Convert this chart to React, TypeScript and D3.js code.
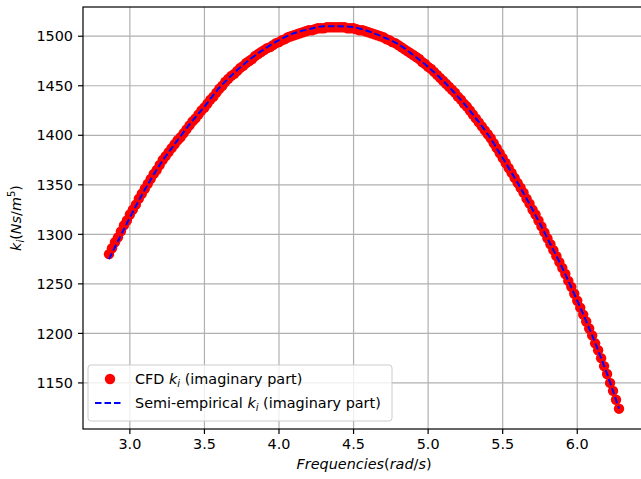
import React from 'react';
import * as d3 from 'd3';

// CFD samples (rad/s) and the imaginary part k_i
const frequencies = [
  2.86, 2.88, 2.9, 2.92, 2.94, 2.96, 2.98, 3.0, 3.02, 3.04,
  3.06, 3.08, 3.1, 3.12, 3.14, 3.16, 3.18, 3.2, 3.22, 3.24,
  3.26, 3.28, 3.3, 3.32, 3.34, 3.36, 3.38, 3.4, 3.42, 3.44,
  3.46, 3.48, 3.5, 3.52, 3.54, 3.56, 3.58, 3.6, 3.62, 3.64,
  3.66, 3.68, 3.7, 3.72, 3.74, 3.76, 3.78, 3.8, 3.82, 3.84,
  3.86, 3.88, 3.9, 3.92, 3.94, 3.96, 3.98, 4.0, 4.02, 4.04,
  4.06, 4.08, 4.1, 4.12, 4.14, 4.16, 4.18, 4.2, 4.22, 4.24,
  4.26, 4.28, 4.3, 4.32, 4.34, 4.36, 4.38, 4.4, 4.42, 4.44,
  4.46, 4.48, 4.5, 4.52, 4.54, 4.56, 4.58, 4.6, 4.62, 4.64,
  4.66, 4.68, 4.7, 4.72, 4.74, 4.76, 4.78, 4.8, 4.82, 4.84,
  4.86, 4.88, 4.9, 4.92, 4.94, 4.96, 4.98, 5.0, 5.02, 5.04,
  5.06, 5.08, 5.1, 5.12, 5.14, 5.16, 5.18, 5.2, 5.22, 5.24,
  5.26, 5.28, 5.3, 5.32, 5.34, 5.36, 5.38, 5.4, 5.42, 5.44,
  5.46, 5.48, 5.5, 5.52, 5.54, 5.56, 5.58, 5.6, 5.62, 5.64,
  5.66, 5.68, 5.7, 5.72, 5.74, 5.76, 5.78, 5.8, 5.82, 5.84,
  5.86, 5.88, 5.9, 5.92, 5.94, 5.96, 5.98, 6.0, 6.02, 6.04,
  6.06, 6.08, 6.1, 6.12, 6.14, 6.16, 6.18, 6.2, 6.22, 6.24,
  6.26, 6.28,
];

const cfdKi = [
  1280, 1286, 1292, 1297, 1303, 1309, 1314, 1320, 1325, 1330,
  1336, 1341, 1346, 1351, 1356, 1361, 1365, 1370, 1375, 1379,
  1383, 1387, 1391, 1395, 1398, 1402, 1406, 1410, 1414, 1417,
  1421, 1425, 1428, 1432, 1436, 1439, 1443, 1447, 1450, 1454,
  1457, 1460, 1462, 1465, 1468, 1470, 1473, 1475, 1477, 1480,
  1482, 1484, 1486, 1488, 1489, 1491, 1493, 1494, 1496, 1497,
  1499, 1500, 1501, 1502, 1503, 1504, 1505, 1506, 1506, 1507,
  1508, 1508, 1508, 1509, 1509, 1509, 1509, 1509, 1509, 1509,
  1508, 1508, 1508, 1507, 1506, 1506, 1505, 1504, 1503, 1502,
  1501, 1500, 1499, 1497, 1496, 1494, 1493, 1491, 1489, 1487,
  1485, 1483, 1481, 1479, 1477, 1474, 1472, 1469, 1467, 1464,
  1461, 1458, 1455, 1452, 1449, 1446, 1443, 1439, 1436, 1432,
  1429, 1425, 1421, 1417, 1413, 1409, 1405, 1401, 1397, 1392,
  1387, 1382, 1377, 1372, 1367, 1362, 1357, 1352, 1347, 1342,
  1336, 1331, 1325, 1320, 1314, 1308, 1302, 1296, 1290, 1284,
  1278, 1272, 1266, 1260, 1253, 1247, 1240, 1233, 1226, 1219,
  1212, 1205, 1198, 1190, 1183, 1175, 1167, 1159, 1150, 1142,
  1133, 1124,
];

// semi-empirical model
const semiFreq = [
  2.86, 2.9, 3.0, 3.1, 3.2, 3.3, 3.4, 3.5, 3.6, 3.7, 3.8, 3.9,
  4.0, 4.1, 4.2, 4.3, 4.4, 4.5, 4.6, 4.7, 4.8, 4.9, 5.0, 5.1,
  5.2, 5.3, 5.4, 5.5, 5.6, 5.7, 5.8, 5.9, 6.0, 6.1, 6.2, 6.28,
];
const semiKi = [
  1275, 1287, 1317, 1345, 1370, 1391, 1411, 1429, 1448, 1463, 1476, 1487,
  1496, 1503, 1507, 1510, 1510, 1509, 1505, 1499, 1492, 1481, 1469, 1455,
  1439, 1421, 1401, 1377, 1352, 1325, 1296, 1266, 1233, 1198, 1159, 1124,
];

const xTicks = [3.0, 3.5, 4.0, 4.5, 5.0, 5.5, 6.0];
const yTicks = [1150, 1200, 1250, 1300, 1350, 1400, 1450, 1500];

const W = 641;
const H = 479;
const plot = { left: 83, top: 7, right: 645, bottom: 429 };
const font = 'DejaVu Sans, sans-serif';
const fs = 14.4;

export default function App() {
  const x = d3.scaleLinear().domain([2.6857, 6.4543]).range([plot.left, plot.right]);
  const y = d3.scaleLinear().domain([1103.5, 1529.5]).range([plot.bottom, plot.top]);

  const semiLine = d3
    .line<number>()
    .x((d, i) => x(semiFreq[i]))
    .y((d) => y(d))
    .curve(d3.curveMonotoneX)(semiKi);

  return (
    <svg
      width={W}
      height={H}
      style={{ position: 'absolute', left: 0, top: 0, background: '#fff' }}
      fontFamily={font}
    >
      <rect x={0} y={0} width={W} height={H} fill="#fff" />
      <defs>
        <clipPath id="plotclip">
          <rect x={plot.left} y={plot.top} width={plot.right - plot.left} height={plot.bottom - plot.top} />
        </clipPath>
      </defs>

      {/* grid */}
      {xTicks.map((t) => (
        <line key={'gx' + t} x1={x(t)} x2={x(t)} y1={plot.top} y2={plot.bottom} stroke="#b0b0b0" strokeWidth={1.2} />
      ))}
      {yTicks.map((t) => (
        <line key={'gy' + t} x1={plot.left} x2={plot.right} y1={y(t)} y2={y(t)} stroke="#b0b0b0" strokeWidth={1.2} />
      ))}

      {/* data */}
      <g clipPath="url(#plotclip)">
        {cfdKi.map((v, i) => (
          <circle key={'c' + i} cx={x(frequencies[i])} cy={y(v)} r={5.2} fill="#ff0000" />
        ))}
        <path d={semiLine || ''} fill="none" stroke="#0000ff" strokeWidth={2} strokeDasharray="6.5,3" />
      </g>

      {/* spines */}
      <rect
        x={plot.left}
        y={plot.top}
        width={plot.right - plot.left}
        height={plot.bottom - plot.top}
        fill="none"
        stroke="#000"
        strokeWidth={1.2}
      />

      {/* x axis */}
      {xTicks.map((t) => (
        <g key={'tx' + t}>
          <line x1={x(t)} x2={x(t)} y1={plot.bottom} y2={plot.bottom + 5} stroke="#000" strokeWidth={1.2} />
          <text x={x(t)} y={449} textAnchor="middle" fontSize={fs} fill="#000">
            {t.toFixed(1)}
          </text>
        </g>
      ))}
      {/* y axis */}
      {yTicks.map((t) => (
        <g key={'ty' + t}>
          <line x1={plot.left - 5} x2={plot.left} y1={y(t)} y2={y(t)} stroke="#000" strokeWidth={1.2} />
          <text x={73} y={y(t)} dy="0.36em" textAnchor="end" fontSize={fs} fill="#000">
            {t}
          </text>
        </g>
      ))}

      {/* axis labels */}
      <text x={(plot.left + plot.right) / 2} y={469} textAnchor="middle" fontSize={fs} fill="#000">
        <tspan fontStyle="italic">Frequencies</tspan>
        <tspan>(</tspan>
        <tspan fontStyle="italic">rad</tspan>
        <tspan>/</tspan>
        <tspan fontStyle="italic">s</tspan>
        <tspan>)</tspan>
      </text>
      <text
        transform={`translate(21,${(plot.top + plot.bottom) / 2}) rotate(-90)`}
        textAnchor="middle"
        fontSize={fs}
        fill="#000"
      >
        <tspan fontStyle="italic">k</tspan>
        <tspan fontStyle="italic" fontSize={10} dy={3}>i</tspan>
        <tspan dy={-3}>(</tspan>
        <tspan fontStyle="italic">Ns</tspan>
        <tspan>/</tspan>
        <tspan fontStyle="italic">m</tspan>
        <tspan fontSize={10} dy={-6}>5</tspan>
        <tspan dy={6}>)</tspan>
      </text>

      {/* legend */}
      <rect x={88} y={365} width={304} height={56} rx={3} fill="#fff" fillOpacity={0.8} stroke="#cccccc" strokeWidth={1} />
      <circle cx={110} cy={379} r={5.2} fill="#ff0000" />
      <text x={135} y={384} fontSize={fs} fill="#000">
        <tspan>CFD </tspan>
        <tspan fontStyle="italic">k</tspan>
        <tspan fontStyle="italic" fontSize={10} dy={3}>i</tspan>
        <tspan dy={-3}> (imaginary part)</tspan>
      </text>
      <line x1={95} x2={123} y1={403} y2={403} stroke="#0000ff" strokeWidth={2} strokeDasharray="6.5,3" />
      <text x={135} y={408} fontSize={fs} fill="#000">
        <tspan>Semi-empirical </tspan>
        <tspan fontStyle="italic">k</tspan>
        <tspan fontStyle="italic" fontSize={10} dy={3}>i</tspan>
        <tspan dy={-3}> (imaginary part)</tspan>
      </text>
    </svg>
  );
}
